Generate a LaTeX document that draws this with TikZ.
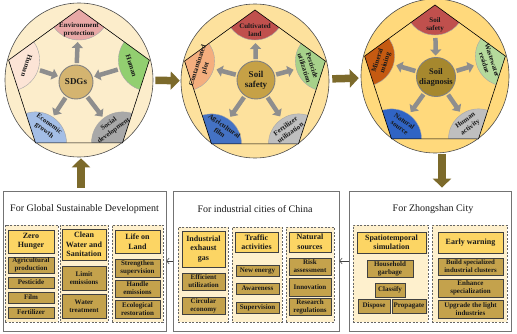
\documentclass[tikz,border=0pt]{standalone}
\usepackage{fontspec}
\setmainfont{Liberation Serif}
\usetikzlibrary{arrows.meta,calc,shapes.geometric}
\definecolor{wA}{HTML}{FCEDCB}
\definecolor{wB}{HTML}{FDE19D}
\definecolor{wC}{HTML}{FFD97C}
\definecolor{cA}{HTML}{D4B470}
\definecolor{cB}{HTML}{C6A146}
\definecolor{cC}{HTML}{A6882E}
\definecolor{pinkA}{HTML}{E8A8A6}
\definecolor{paleA}{HTML}{FCE4D6}
\definecolor{greenA}{HTML}{92CF70}
\definecolor{blueA}{HTML}{A4BEE6}
\definecolor{grayA}{HTML}{A8A8A8}
\definecolor{redB}{HTML}{C0504D}
\definecolor{salmonB}{HTML}{F4AE7E}
\definecolor{greenB}{HTML}{A6D18A}
\definecolor{blueB}{HTML}{4472C4}
\definecolor{grayB}{HTML}{BFBFBF}
\definecolor{orangeC}{HTML}{C55A11}
\definecolor{greenC}{HTML}{B5DA9C}
\definecolor{blueC}{HTML}{3064C4}
\definecolor{brownarrow}{HTML}{7C6A2B}
\definecolor{grayarrow}{HTML}{8E8E8E}
\definecolor{yellowbox}{HTML}{FCD564}
\definecolor{olivebox}{HTML}{C4A24C}
\definecolor{grpfill}{HTML}{FEF0CD}
\newcommand\mkpent[3]{%
  \coordinate (#1-o) at (#2,#3+3);
  \coordinate (#1-t) at (#2,#3-71);
  \coordinate (#1-r) at (#2+70.4,#3-19.9);
  \coordinate (#1-br) at (#2+43.5,#3+62.9);
  \coordinate (#1-bl) at (#2-43.5,#3+62.9);
  \coordinate (#1-l) at (#2-70.4,#3-19.9);
}
\newcommand\ibox[7]{\node[#6, minimum width={(#4-#2)*1pt}, minimum height={(#5-#3)*1pt}] (#1) at ({(#2+#4)/2},{(#3+#5)/2}) {#7};}
\tikzset{
  wheel/.style={ellipse, draw=black!70, line width=0.6pt, minimum width=148pt, minimum height=154pt, inner sep=0pt},
  hub/.style={circle, draw=black!50, line width=0.9pt, inner sep=0pt, align=center, font=\fontsize{9}{10}\selectfont\bfseries, text=black!90},
  pent/.style={draw=black, line width=0.6pt},
  sector/.style={draw=black!35, line width=0.4pt},
  seclabel/.style={align=center, font=\fontsize{7}{8.2}\selectfont\bfseries, text=black!90, inner sep=0pt},
  garrow/.style={draw=grayarrow, line width=4.5pt, -{Triangle[length=6pt,width=11pt]}, shorten <=1.5pt, shorten >=33pt},
  garrowin/.style={draw=grayarrow, line width=4.5pt, -{Triangle[length=6pt,width=11pt]}, shorten <=33pt, shorten >=1.5pt},
  barrow/.style={draw=brownarrow, line width=7.5pt, -{Triangle[length=9pt,width=18pt]}},
  sarrow/.style={draw=black!75, line width=0.5pt, -{Straight Barb[length=2.5pt,width=6pt]}},
  outbox/.style={draw=black!55, line width=0.8pt, fill=white, inner sep=0pt},
  grp/.style={draw=black!60, dash pattern=on 2pt off 1.5pt, line width=0.9pt, fill=grpfill, inner sep=0pt},
  ybox/.style={draw=black!75, line width=0.8pt, fill=yellowbox, inner sep=0pt, align=center, font=\fontsize{8}{9.5}\selectfont\bfseries, text=black!90},
  obox/.style={draw=black!75, line width=0.8pt, fill=olivebox, inner sep=0pt, align=center, font=\fontsize{7}{7.9}\selectfont\bfseries, text=black!90},
  title/.style={font=\fontsize{10}{11}\selectfont, text=black!90, inner sep=0pt}
}
\begin{document}
\begin{tikzpicture}[x=1pt,y=-1pt]
\useasboundingbox (0,0) rectangle (517,334);
% ---------- wheels ----------
\node[wheel, fill=wA] (w1) at (79,80) {};
\node[wheel, fill=wB] (w2) at (255,81) {};
\node[wheel, fill=wC] (w3) at (435,76) {};
\mkpent{a}{79}{80}
\mkpent{b}{255}{81}
\mkpent{c}{435}{76}
% sectors
\begin{scope}
  \clip (a-t)--(a-r)--(a-br)--(a-bl)--(a-l)--cycle;
  \filldraw[sector, fill=pinkA] (a-t) circle[radius=31pt];
  \filldraw[sector, fill=greenA] (a-r) circle[radius=31pt];
  \filldraw[sector, fill=grayA] (a-br) circle[radius=31pt];
  \filldraw[sector, fill=blueA] (a-bl) circle[radius=31pt];
  \filldraw[sector, fill=paleA] (a-l) circle[radius=31pt];
\end{scope}
\begin{scope}
  \clip (b-t)--(b-r)--(b-br)--(b-bl)--(b-l)--cycle;
  \filldraw[sector, fill=redB] (b-t) circle[radius=30pt];
  \filldraw[sector, fill=greenB] (b-r) circle[radius=30pt];
  \filldraw[sector, fill=grayB] (b-br) circle[radius=30pt];
  \filldraw[sector, fill=blueB] (b-bl) circle[radius=30pt];
  \filldraw[sector, fill=salmonB] (b-l) circle[radius=30pt];
\end{scope}
\begin{scope}
  \clip (c-t)--(c-r)--(c-br)--(c-bl)--(c-l)--cycle;
  \filldraw[sector, fill=redB] (c-t) circle[radius=30pt];
  \filldraw[sector, fill=greenC] (c-r) circle[radius=30pt];
  \filldraw[sector, fill=grayB] (c-br) circle[radius=30pt];
  \filldraw[sector, fill=blueC] (c-bl) circle[radius=30pt];
  \filldraw[sector, fill=orangeC] (c-l) circle[radius=30pt];
\end{scope}
\draw[pent] (a-t)--(a-r)--(a-br)--(a-bl)--(a-l)--cycle;
\draw[pent] (b-t)--(b-r)--(b-br)--(b-bl)--(b-l)--cycle;
\draw[pent] (c-t)--(c-r)--(c-br)--(c-bl)--(c-l)--cycle;
% hubs
\node[hub, fill=cA, minimum size=34pt] (h1) at (76,82) {SDGs};
\node[hub, fill=cB, minimum size=38pt] (h2) at (256,80) {Soil\\safety};
\node[hub, fill=cC, minimum size=39pt, font=\fontsize{8.5}{10}\selectfont\bfseries] (h3) at (436,77) {Soil\\diagnosis};
% gray arrows
\draw[garrow] (h1) -- (a-t);
\draw[garrowin] (a-l) -- (h1);
\draw[garrowin] (a-r) -- (h1);
\draw[garrow] (h1) -- (a-bl);
\draw[garrow] (h1) -- (a-br);
\draw[garrow] (h2) -- (b-t);
\draw[garrow] (h2) -- (b-l);
\draw[garrow] (h2) -- (b-r);
\draw[garrow] (h2) -- (b-bl);
\draw[garrow] (h2) -- (b-br);
\draw[garrowin] (c-t) -- (h3);
\draw[garrow] (h3) -- (c-l);
\draw[garrow] (h3) -- (c-r);
\draw[garrow] (h3) -- (c-bl);
\draw[garrow] (h3) -- (c-br);
% sector labels
\node[seclabel] (la1) at ($(a-t)!21pt!(a-o)$) {Environment\\protection};
\node[seclabel, rotate=-108] (la2) at ($(a-l)!19pt!(a-o)$) {Human};
\node[seclabel, rotate=-72] (la3) at ($(a-r)!19pt!(a-o)$) {Human};
\node[seclabel, rotate=-36] (la4) at ($(a-bl)!19pt!(a-o)$) {Economic\\growth};
\node[seclabel, rotate=36] (la5) at ($(a-br)!19pt!(a-o)$) {Social\\development};
\node[seclabel] (lb1) at ($(b-t)!20pt!(b-o)$) {Cultivated\\land};
\node[seclabel, rotate=72] (lb2) at ($(b-l)!18pt!(b-o)$) {Contaminated\\plot};
\node[seclabel, rotate=-72] (lb3) at ($(b-r)!18pt!(b-o)$) {Pesticide\\utilization};
\node[seclabel, rotate=-36] (lb4) at ($(b-bl)!18pt!(b-o)$) {Agricultural\\film};
\node[seclabel, rotate=36] (lb5) at ($(b-br)!18pt!(b-o)$) {Fertilizer\\utilization};
\node[seclabel] (lc1) at ($(c-t)!20pt!(c-o)$) {Soil\\safety};
\node[seclabel, rotate=72] (lc2) at ($(c-l)!18pt!(c-o)$) {Mineral\\mining};
\node[seclabel, rotate=-72] (lc3) at ($(c-r)!18pt!(c-o)$) {Wastewater\\residue};
\node[seclabel, rotate=-36] (lc4) at ($(c-bl)!18pt!(c-o)$) {Natural\\source};
\node[seclabel, rotate=36] (lc5) at ($(c-br)!18pt!(c-o)$) {Human\\activity};
% ---------- boxes ----------
\ibox{box1}{3}{191}{166}{331}{outbox}{}
\ibox{box2}{173}{191}{339}{331}{outbox}{}
\ibox{box3}{349}{191}{511}{331}{outbox}{}
\node[title] (t1) at (84.5,209) {For Global Sustainable Development};
\node[title] (t2) at (255,209) {For industrial cities of China};
\node[title] (t3) at (433,209) {For Zhongshan City};
% box 1
\ibox{g11}{5}{225}{58}{322}{grp}{}
\ibox{g12}{60}{225}{108}{322}{grp}{}
\ibox{g13}{112}{225}{163}{322}{grp}{}
\ibox{i111}{8}{230}{54}{253}{ybox}{Zero\\Hunger}
\ibox{i112}{8}{257}{54}{273}{obox}{Agricultural\\production}
\ibox{i113}{8}{277}{54}{288}{obox}{Pesticide}
\ibox{i114}{8}{292}{54}{303}{obox}{Film}
\ibox{i115}{8}{307}{54}{318}{obox}{Fertilizer}
\ibox{i121}{62}{229}{106}{260}{ybox}{Clean\\Water and\\Sanitation}
\ibox{i122}{62}{266}{106}{290}{obox}{Limit\\emissions}
\ibox{i123}{62}{294}{106}{318}{obox}{Water\\treatment}
\ibox{i131}{115}{230}{160}{253}{ybox}{Life on\\Land}
\ibox{i132}{115}{259}{160}{277}{obox}{Strengthen\\supervision}
\ibox{i133}{115}{280}{160}{297}{obox}{Handle\\emissions}
\ibox{i134}{115}{300}{160}{318}{obox}{Ecological\\restoration}
% box 2
\ibox{g21}{178}{227}{228}{322}{grp}{}
\ibox{g22}{232}{227}{282}{322}{grp}{}
\ibox{g23}{286}{227}{334}{322}{grp}{}
\ibox{i211}{182}{231}{225}{267}{ybox}{Industrial\\exhaust\\gas}
\ibox{i212}{182}{273}{225}{290}{obox}{Efficient\\utilization}
\ibox{i213}{182}{297}{225}{314}{obox}{Circular\\economy}
\ibox{i221}{235}{232}{278}{252}{ybox}{Traffic\\activities}
\ibox{i222}{236}{265}{279}{276}{obox}{New energy}
\ibox{i223}{236}{283}{279}{294}{obox}{Awareness}
\ibox{i224}{236}{302}{279}{313}{obox}{Supervision}
\ibox{i231}{289}{232}{331}{252}{ybox}{Natural\\sources}
\ibox{i232}{289}{258}{331}{275}{obox}{Risk\\assessment}
\ibox{i233}{289}{278}{331}{296}{obox}{Innovation}
\ibox{i234}{289}{298}{331}{315}{obox}{Research\\regulations}
% box 3
\ibox{g31}{353}{225}{428}{322}{grp}{}
\ibox{g32}{432}{225}{507}{322}{grp}{}
\ibox{i311}{357}{232}{426}{253}{ybox}{Spatiotemporal\\simulation}
\ibox{i312}{367}{260}{413}{277}{obox}{Household\\garbage}
\ibox{i313}{375}{283}{405}{297}{obox}{Classify}
\ibox{i314}{358}{299}{390}{313}{obox}{Dispose}
\ibox{i315}{392}{299}{426}{313}{obox}{Propagate}
\ibox{i321}{438}{232}{503}{253}{ybox}{Early warning}
\ibox{i322}{438}{258}{503}{275}{obox, font=\fontsize{6.8}{7.8}\selectfont\bfseries}{Build specialized\\industrial clusters}
\ibox{i323}{438}{279}{503}{297}{obox}{Enhance\\specialization}
\ibox{i324}{438}{300}{503}{318}{obox}{Upgrade the light\\industries}
% ---------- connectors ----------
\draw[barrow, shorten <=2pt, shorten >=1pt] (w1) -- (w2);
\draw[barrow, shorten <=3pt, shorten >=2pt] (w2) -- (w3);
\draw[barrow, shorten <=1pt, shorten >=3pt] ([xshift=7pt]w3.south) -- ([xshift=7pt]w3.south |- box3.north);
\draw[barrow, shorten <=3pt, shorten >=1pt] ([xshift=2pt]w1.south |- box1.north) -- ([xshift=2pt]w1.south);
\draw[sarrow] (box2.west) -- (box1.east);
\draw[sarrow] (box3.west) -- (box2.east);
\end{tikzpicture}
\end{document}
